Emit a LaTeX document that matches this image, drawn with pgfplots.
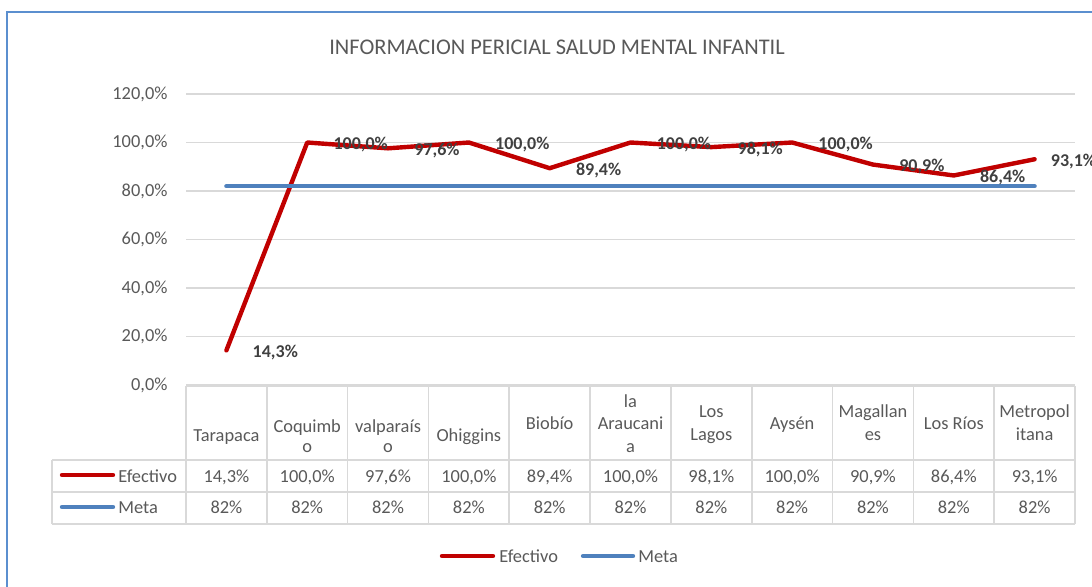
\documentclass[border=0pt]{standalone}
\usepackage{fontspec}
\setmainfont{Carlito}
\usepackage{pgfplots}
\pgfplotsset{compat=1.18}
\definecolor{efred}{HTML}{C00000}
\definecolor{metablue}{HTML}{4F81BD}
\definecolor{txtgray}{HTML}{595959}
\definecolor{lblgray}{HTML}{404040}
\definecolor{gridgray}{HTML}{D9D9D9}
\definecolor{borderblue}{HTML}{5B8FCF}
\begin{document}
\fontsize{9.2}{11.2}\selectfont
\begin{tikzpicture}[x=0.5pt,y=0.5pt]
\path[use as bounding box] (0,0) rectangle (1092,586);
% chart border
\draw[borderblue, line width=0.9pt] (7,-5) -- (7,574) -- (1100,574);
% title
\node[txtgray, font=\fontsize{11.2}{13}\selectfont] at (557,539) {INFORMACION PERICIAL SALUD MENTAL INFANTIL};
\begin{axis}[
  at={(93pt,100.5pt)}, anchor=south west,
  scale only axis, width=444.5pt, height=145.5pt,
  xmin=-0.5, xmax=10.5, ymin=0, ymax=120,
  axis line style={draw=none},
  xtick=\empty,
  ytick={0,20,...,120},
  yticklabels={{0,0\%},{20,0\%},{40,0\%},{60,0\%},{80,0\%},{100,0\%},{120,0\%}},
  ymajorgrids, grid style={gridgray, line width=0.8pt},
  major tick length=0pt,
  yticklabel style={text=txtgray, font=\fontsize{9.2}{11}\selectfont, xshift=-6pt},
  /pgf/number format/assume math mode=true,
  clip=false,
]
\addplot[efred, line width=2.2pt, line join=round, line cap=round,
  visualization depends on={x \as \xv},
  nodes near coords={\pgfmathprintnumber[fixed, fixed zerofill, precision=1, use comma]{\pgfplotspointmeta}\%},
  every node near coord/.append style={anchor=west, xshift={9-5*(\xv>9.5)}, yshift=-1pt,
    font=\fontsize{9}{11}\selectfont\bfseries, text=lblgray}]
  coordinates {(0,14.3) (1,100) (2,97.6) (3,100) (4,89.4) (5,100) (6,98.1) (7,100) (8,90.9) (9,86.4) (10,93.1)};
\addplot[metablue, line width=2.2pt, line cap=round]
  coordinates {(0,82) (1,82) (2,82) (3,82) (4,82) (5,82) (6,82) (7,82) (8,82) (9,82) (10,82)};
\end{axis}
% data table
\begin{scope}[gridgray, line width=0.8pt]
\draw (186,200) -- (1075,200);
\draw (52,126) -- (1075,126);
\draw (52,94) -- (1075,94);
\draw (52,62) -- (1075,62);
\draw (52,126) -- (52,62);
\foreach \i in {0,...,11} {\draw ({186+80.82*\i},200) -- ({186+80.82*\i},62);}
\end{scope}
% row keys
\draw[efred, line width=2.2pt, line cap=round] (62,111) -- (113,111);
\draw[metablue, line width=2.2pt, line cap=round] (62,79) -- (113,79);
\node[anchor=base west, text=txtgray, inner sep=0pt] at (118,104) {Efectivo};
\node[anchor=base west, text=txtgray, inner sep=0pt] at (118,73) {Meta};
% headers
\foreach \i/\b/\t in {0/145/Tarapaca, 1/154/Coquimb, 1/134/o, 2/154/valparaís, 2/134/o, 3/145/Ohiggins, 4/157/Biobío,
  5/179/la, 5/157/Araucani, 5/134/a, 6/169/Los, 6/146/Lagos, 7/157/Aysén, 8/169/Magallan, 8/146/es, 9/157/Los Ríos,
  10/169/Metropol, 10/146/itana}
  {\node[anchor=base, text=txtgray, inner sep=0pt] at ({226.4+80.82*\i},\b) {\t};}
% values
\foreach \i/\v in {0/{14,3\%},1/{100,0\%},2/{97,6\%},3/{100,0\%},4/{89,4\%},5/{100,0\%},6/{98,1\%},7/{100,0\%},8/{90,9\%},9/{86,4\%},10/{93,1\%}}
  {\node[anchor=base, text=txtgray, inner sep=0pt] at ({226.4+80.82*\i},104) {\v};
   \node[anchor=base, text=txtgray, inner sep=0pt] at ({226.4+80.82*\i},73) {82\%};}
% legend
\draw[efred, line width=2.2pt, line cap=round] (442,30) -- (493,30);
\node[anchor=base west, text=txtgray, inner sep=0pt] at (499,24) {Efectivo};
\draw[metablue, line width=2.2pt, line cap=round] (583,30) -- (633,30);
\node[anchor=base west, text=txtgray, inner sep=0pt] at (638,24) {Meta};
\end{tikzpicture}
\end{document}
